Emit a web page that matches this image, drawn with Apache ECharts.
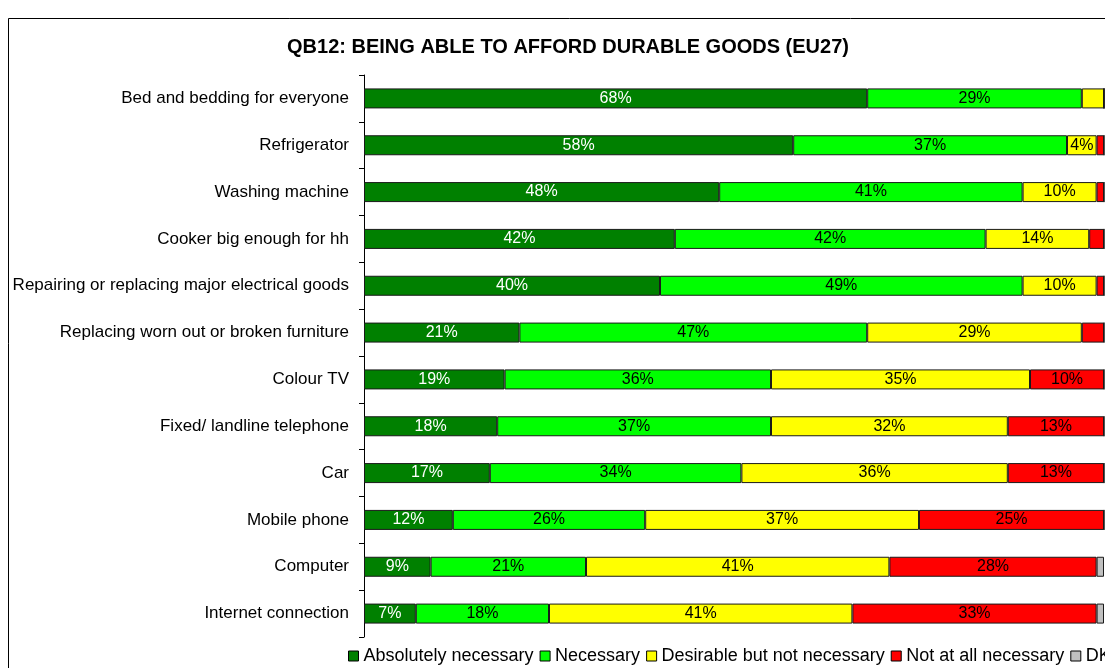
<!DOCTYPE html>
<html>
<head>
<meta charset="utf-8">
<script src="https://cdn.jsdelivr.net/npm/echarts@6/dist/echarts.min.js"></script>
<style>
  html, body { margin: 0; padding: 0; background: #fff; overflow: hidden; }
  #chart { width: 1130px; height: 668px; }
</style>
</head>
<body>
<div id="chart"></div>
<script>
// Survey items, top to bottom
const categories = [
  'Bed and bedding for everyone',
  'Refrigerator',
  'Washing machine',
  'Cooker big enough for hh',
  'Repairing or replacing major electrical goods',
  'Replacing worn out or broken furniture',
  'Colour TV',
  'Fixed/ landline telephone',
  'Car',
  'Mobile phone',
  'Computer',
  'Internet connection'
];

// Share of answers per item (%)
const absolutelyNecessary = [68, 58, 48, 42, 40, 21, 19, 18, 17, 12, 9, 7];
const necessary           = [29, 37, 41, 42, 49, 47, 36, 37, 34, 26, 21, 18];
const desirable           = [3, 4, 10, 14, 10, 29, 35, 32, 36, 37, 41, 41];
const notAtAll            = [0, 1, 1, 2, 1, 3, 10, 13, 13, 25, 28, 33];
const dontKnow            = [0, 0, 0, 0, 0, 0, 0, 0, 0, 0, 1, 1];

const seriesNames = ['Absolutely necessary', 'Necessary', 'Desirable but not necessary', 'Not at all necessary', 'DK'];
const seriesData = [absolutelyNecessary, necessary, desirable, notAtAll, dontKnow];
const seriesColors = ['#008000', '#00FF00', '#FFFF00', '#FF0000', '#C0C0C0'];
const labelColors = ['#FFFFFF', '#000000', '#000000', '#000000', '#000000'];

const FONT = '"Liberation Sans", Arial, sans-serif';

const chart = echarts.init(document.getElementById('chart'));

const series = seriesNames.map((name, i) => ({
  name: name,
  type: 'bar',
  stack: 'total',
  barWidth: 20,
  data: seriesData[i],
  itemStyle: { color: seriesColors[i], borderColor: '#1a1a1a', borderWidth: 1 },
  label: {
    show: true,
    position: 'inside',
    color: labelColors[i],
    fontFamily: FONT,
    fontSize: 16,
    formatter: p => (p.value >= 4 ? p.value + '%' : '')
  },
  emphasis: { disabled: true },
  animation: false
}));

chart.setOption({
  backgroundColor: '#fff',
  animation: false,
  textStyle: { fontFamily: FONT },
  title: {
    text: 'QB12: BEING ABLE TO AFFORD DURABLE GOODS (EU27)',
    left: 568,
    top: 37,
    padding: 0,
    textAlign: 'center',
    textStyle: { fontSize: 20, fontWeight: 'bold', color: '#000', fontFamily: FONT }
  },
  legend: {
    left: 348,
    top: 647,
    padding: 0,
    itemWidth: 10,
    itemHeight: 10,
    itemGap: 6,
    icon: 'rect',
    selectedMode: false,
    textStyle: { fontSize: 18, color: '#000', padding: [0, 0, 0, 0], fontFamily: FONT },
    itemStyle: { borderColor: '#000', borderWidth: 1 },
    data: seriesNames
  },
  grid: { left: 364, right: 26, top: 75, bottom: 31, containLabel: false },
  xAxis: {
    type: 'value',
    min: 0,
    max: 100,
    show: false
  },
  yAxis: {
    type: 'category',
    inverse: true,
    data: categories,
    axisLine: { show: true, lineStyle: { color: '#000', width: 1 } },
    axisTick: { show: true, length: 5, lineStyle: { color: '#000' } },
    axisLabel: { color: '#000', fontSize: 17, margin: 15, fontFamily: FONT },
    splitLine: { show: false }
  },
  graphic: [{
    type: 'rect',
    shape: { x: 8.5, y: 18.5, width: 1300, height: 800 },
    style: { fill: null, stroke: '#000', lineWidth: 1 },
    silent: true,
    z: -1
  }],
  series: series
});
</script>
</body>
</html>
